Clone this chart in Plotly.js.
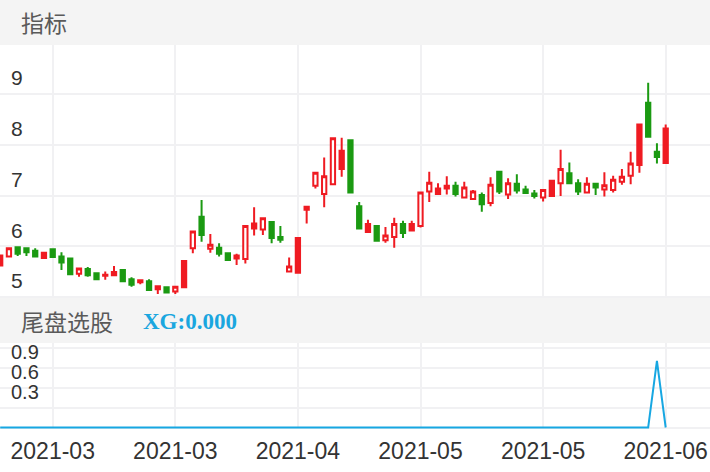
<!DOCTYPE html>
<html>
<head>
<meta charset="utf-8">
<script src="https://cdn.plot.ly/plotly-3.0.1.min.js"></script>
<style>
  html, body { margin: 0; padding: 0; background: #ffffff; }
  #chart { width: 710px; height: 472px; }
</style>
</head>
<body>
<div id="chart"></div>
<script>
// ---- data ----
const opens  = [5.82,5.80,5.98,5.96,5.91,5.77,5.94,5.80,5.76,5.46,5.55,5.47,5.42,5.43,5.53,5.35,5.29,5.31,5.15,5.19,
                5.11,5.19,5.96,6.58,5.95,5.97,5.86,5.76,5.75,6.35,6.33,6.48,6.18,5.50,5.48,6.72,7.19,7.03,7.22,7.52,
                8.09,6.79,6.28,6.40,6.12,6.18,6.44,6.31,6.40,7.08,7.03,7.14,7.19,6.96,6.93,7.01,6.85,7.47,7.02,7.23,
                7.12,7.04,6.96,6.99,7.24,7.44,7.24,7.06,7.23,7.12,7.11,7.27,7.39,7.60,8.83,7.86,7.64];
const highs  = [5.83,5.98,5.99,5.97,5.96,5.88,5.94,5.88,5.78,5.57,5.59,5.48,5.50,5.61,5.53,5.39,5.33,5.35,5.23,5.20,
                5.22,5.71,6.30,6.91,6.24,6.06,5.87,5.85,6.41,6.77,6.56,6.48,6.40,5.78,6.16,6.78,7.46,7.75,8.14,8.14,
                8.10,6.87,6.52,6.40,6.38,6.56,6.50,6.50,7.07,7.47,7.24,7.38,7.27,7.27,7.11,7.06,7.36,7.48,7.34,7.42,
                7.19,7.11,7.12,7.29,7.90,7.65,7.32,7.36,7.24,7.46,7.39,7.52,7.86,8.40,9.22,8.03,8.40];
const lows   = [5.60,5.78,5.81,5.81,5.78,5.75,5.79,5.53,5.44,5.40,5.40,5.34,5.34,5.43,5.30,5.20,5.25,5.12,5.06,5.07,
                5.06,5.19,5.86,6.09,5.87,5.80,5.72,5.63,5.66,6.21,6.22,6.06,6.07,5.50,5.48,6.45,7.14,6.77,7.21,7.37,
                7.05,6.34,6.26,6.10,6.07,5.97,6.16,6.31,6.37,6.87,7.03,7.02,6.98,6.95,6.93,6.68,6.79,7.03,6.93,7.04,
                7.04,6.94,6.88,6.99,6.99,7.24,7.01,7.06,7.01,6.98,7.06,7.21,7.22,7.45,8.16,7.63,7.63];
const closes = [5.62,5.96,5.85,5.88,5.80,5.87,5.79,5.68,5.45,5.56,5.43,5.35,5.44,5.49,5.31,5.24,5.33,5.14,5.21,5.09,
                5.20,5.71,6.29,6.22,6.03,5.85,5.73,5.82,6.40,6.45,6.55,6.16,6.13,5.60,6.16,6.78,7.45,7.38,8.13,7.88,
                7.06,6.35,6.44,6.11,6.21,6.44,6.26,6.44,7.06,7.25,7.14,7.19,7.03,7.16,7.08,6.83,7.21,7.08,7.24,7.10,
                7.05,6.99,7.11,7.29,7.52,7.24,7.08,7.23,7.16,7.20,7.31,7.37,7.63,8.40,8.16,7.76,8.32];
// candles drawn as filled red bodies in the reference
const solidRed = [0,5,13,16,18,21,29,34,35,39,42,47,50,63,73,76];
// XG signal (尾盘选股)
const xg = [0,0,0,0,0,0,0,0,0,0,0,0,0,0,0,0,0,0,0,0,
            0,0,0,0,0,0,0,0,0,0,0,0,0,0,0,0,0,0,0,0,
            0,0,0,0,0,0,0,0,0,0,0,0,0,0,0,0,0,0,0,0,
            0,0,0,0,0,0,0,0,0,0,0,0,0,0,0,1,0];
const dateTickIdx   = [6,20,34,48,62,76];
const dateTickText  = ['2021-03','2021-03','2021-04','2021-05','2021-05','2021-06'];
const priceTicks    = [5,6,7,8,9];
const xgTicks       = [0,0.3,0.6,0.9,1.2];
const xgTickText    = ['','0.3','0.6','0.9',''];

// ---- build traces ----
const RED = '#ef1b22', GREEN = '#1b9a12', BLUE = '#17a7e2';
const idx = opens.map((_, i) => i);
function pick(arr, keep) { return idx.filter(keep).map(i => arr[i]); }
const isSolid = i => solidRed.includes(i);
const notSolid = i => !solidRed.includes(i);

const tMain = {
  type: 'candlestick', xaxis: 'x', yaxis: 'y',
  x: pick(idx, notSolid), open: pick(opens, notSolid), high: pick(highs, notSolid),
  low: pick(lows, notSolid), close: pick(closes, notSolid),
  increasing: { line: { color: RED, width: 2 }, fillcolor: '#ffffff' },
  decreasing: { line: { color: GREEN, width: 2 }, fillcolor: GREEN },
  whiskerwidth: 0, hoverinfo: 'skip', showlegend: false
};
const tSolid = {
  type: 'candlestick', xaxis: 'x', yaxis: 'y',
  x: pick(idx, isSolid), open: pick(opens, isSolid), high: pick(highs, isSolid),
  low: pick(lows, isSolid), close: pick(closes, isSolid),
  increasing: { line: { color: RED, width: 2 }, fillcolor: RED },
  decreasing: { line: { color: RED, width: 2 }, fillcolor: RED },
  whiskerwidth: 0, hoverinfo: 'skip', showlegend: false
};
const tXG = {
  type: 'scatter', mode: 'lines', xaxis: 'x2', yaxis: 'y2',
  x: idx, y: xg, line: { color: BLUE, width: 2 }, hoverinfo: 'skip', showlegend: false
};

const GRID = '#f1f1f3';
const H = 472;
const py = p => 1 - p / H;
const XR = [-0.02, 81.06];

const layout = {
  width: 710, height: 472,
  margin: { l: 0, r: 0, t: 0, b: 0 },
  paper_bgcolor: '#ffffff', plot_bgcolor: '#ffffff',
  showlegend: false,
  font: { family: 'Liberation Sans, Arial, sans-serif', color: '#333333' },
  xaxis: {
    domain: [0, 1], range: XR, anchor: 'y', rangeslider: { visible: false },
    tickmode: 'array', tickvals: dateTickIdx, showticklabels: false, ticks: '',
    showgrid: true, gridcolor: GRID, gridwidth: 2, zeroline: false, showline: false, fixedrange: true
  },
  yaxis: {
    domain: [py(298), py(45)], range: [4.980, 9.966],
    tickmode: 'array', tickvals: priceTicks, ticktext: priceTicks.map(String),
    ticklabelposition: 'inside', ticklabelshift: -16, ticklabelstandoff: 8, ticks: '',
    tickfont: { size: 21, color: '#333333' },
    showgrid: true, gridcolor: GRID, gridwidth: 2, zeroline: false, showline: false, fixedrange: true
  },
  xaxis2: {
    domain: [0, 1], range: XR, anchor: 'y2',
    tickmode: 'array', tickvals: dateTickIdx, ticktext: dateTickText, ticks: '',
    tickfont: { size: 23, color: '#333333' }, ticklabelstandoff: 6,
    showgrid: true, gridcolor: GRID, gridwidth: 2, zeroline: false, showline: false, fixedrange: true
  },
  yaxis2: {
    domain: [py(429), py(326)], range: [-0.0225, 1.5225],
    tickmode: 'array', tickvals: xgTicks, ticktext: xgTickText,
    ticklabelposition: 'inside', ticklabelshift: -16, ticklabelstandoff: 8, ticks: '',
    tickfont: { size: 20, color: '#333333' },
    showgrid: true, gridcolor: GRID, gridwidth: 2, zeroline: false, showline: false, fixedrange: true
  },
  shapes: [
    { type: 'rect', xref: 'paper', yref: 'paper', x0: 0, x1: 1, y0: py(45), y1: 1,
      fillcolor: '#f4f4f4', line: { width: 0 }, layer: 'below' },
    { type: 'rect', xref: 'paper', yref: 'paper', x0: 0, x1: 1, y0: py(343), y1: py(298),
      fillcolor: '#f4f4f4', line: { width: 0 }, layer: 'above' }
  ],
  annotations: [
    { text: '指标', xref: 'paper', yref: 'paper', x: 19 / 710, y: py(22), xanchor: 'left', yanchor: 'middle',
      showarrow: false, font: { family: 'Noto Sans CJK SC', size: 23, color: '#5a5a5a' } },
    { text: '尾盘选股', xref: 'paper', yref: 'paper', x: 19 / 710, y: py(321), xanchor: 'left', yanchor: 'middle',
      showarrow: false, font: { family: 'Noto Sans CJK SC', size: 23, color: '#5a5a5a' } },
    { text: '<b>XG:0.000</b>', xref: 'paper', yref: 'paper', x: 141 / 710, y: py(321), xanchor: 'left', yanchor: 'middle',
      showarrow: false, font: { family: 'Liberation Serif, Times New Roman, serif', size: 23, color: '#1aa6df' } }
  ]
};

Plotly.newPlot('chart', [tMain, tSolid, tXG], layout, { staticPlot: true, displayModeBar: false });
</script>
</body>
</html>
